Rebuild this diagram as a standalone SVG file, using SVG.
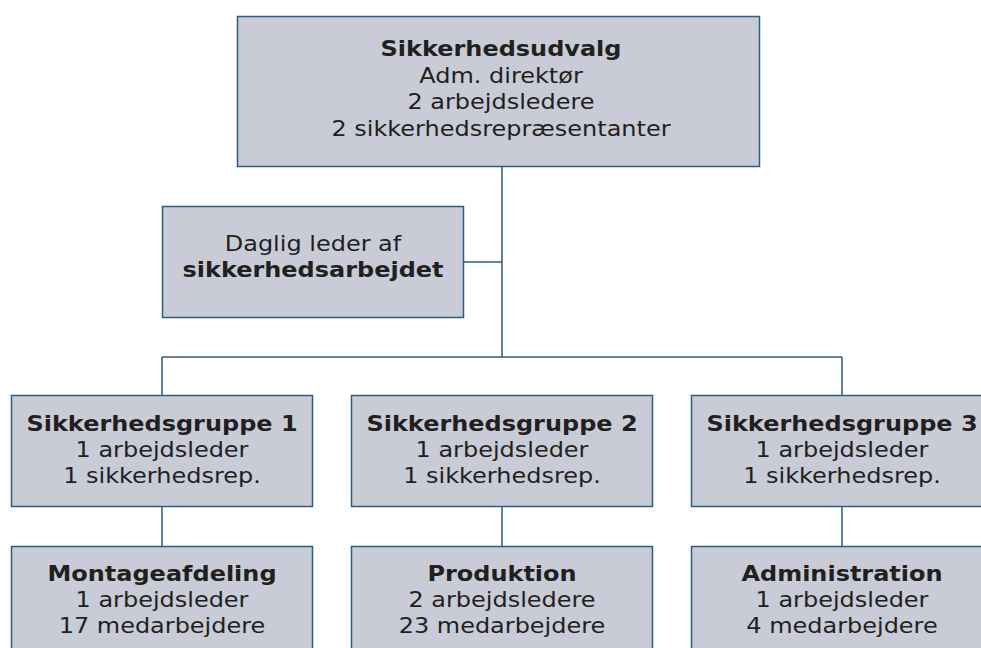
<svg xmlns="http://www.w3.org/2000/svg" width="981" height="648" viewBox="0 0 981 648">
<style>
.box{fill:#c9ccd7;stroke:#2f5c7f;stroke-width:1.5}
.ln{stroke:#2f5c7f;stroke-width:1.5;fill:none}
text{font-family:"DejaVu Sans",Verdana,sans-serif;font-size:22px;fill:#231f20;text-anchor:middle}
.b{font-weight:bold}
</style>
<rect width="981" height="648" fill="#ffffff"/>
<g id="connectors">
<path class="ln" d="M502 166V357M464 262H502M162 357H842M162 357V395M842 357V395M162 507V546M502 507V546M842 507V546"/>
</g>
<g id="n-udvalg">
<rect class="box" x="237.5" y="16.5" width="522" height="150"/>
<g transform="translate(501 0) scale(1.09 1)">
<text x="0" y="56" class="b">Sikkerhedsudvalg</text>
<text x="0" y="83">Adm. direktør</text>
<text x="0" y="109">2 arbejdsledere</text>
<text x="0" y="136">2 sikkerhedsrepræsentanter</text>
</g>
</g>
<g id="n-daglig">
<rect class="box" x="162.5" y="206.5" width="301" height="111"/>
<g transform="translate(313 0) scale(1.09 1)">
<text x="0" y="251">Daglig leder af</text>
<text x="0" y="277" class="b">sikkerhedsarbejdet</text>
</g>
</g>
<g id="n-g1">
<rect class="box" x="11.5" y="395.5" width="301" height="111"/>
<g transform="translate(162 0) scale(1.09 1)">
<text x="0" y="431" class="b">Sikkerhedsgruppe 1</text>
<text x="0" y="457">1 arbejdsleder</text>
<text x="0" y="483">1 sikkerhedsrep.</text>
</g>
</g>
<g id="n-g2">
<rect class="box" x="351.5" y="395.5" width="301" height="111"/>
<g transform="translate(502 0) scale(1.09 1)">
<text x="0" y="431" class="b">Sikkerhedsgruppe 2</text>
<text x="0" y="457">1 arbejdsleder</text>
<text x="0" y="483">1 sikkerhedsrep.</text>
</g>
</g>
<g id="n-g3">
<rect class="box" x="691.5" y="395.5" width="301" height="111"/>
<g transform="translate(842 0) scale(1.09 1)">
<text x="0" y="431" class="b">Sikkerhedsgruppe 3</text>
<text x="0" y="457">1 arbejdsleder</text>
<text x="0" y="483">1 sikkerhedsrep.</text>
</g>
</g>
<g id="n-montage">
<rect class="box" x="11.5" y="546.5" width="301" height="120"/>
<g transform="translate(162 0) scale(1.09 1)">
<text x="0" y="581" class="b">Montageafdeling</text>
<text x="0" y="607">1 arbejdsleder</text>
<text x="0" y="633">17 medarbejdere</text>
</g>
</g>
<g id="n-produktion">
<rect class="box" x="351.5" y="546.5" width="301" height="120"/>
<g transform="translate(502 0) scale(1.09 1)">
<text x="0" y="581" class="b">Produktion</text>
<text x="0" y="607">2 arbejdsledere</text>
<text x="0" y="633">23 medarbejdere</text>
</g>
</g>
<g id="n-admin">
<rect class="box" x="691.5" y="546.5" width="301" height="120"/>
<g transform="translate(842 0) scale(1.09 1)">
<text x="0" y="581" class="b">Administration</text>
<text x="0" y="607">1 arbejdsleder</text>
<text x="0" y="633">4 medarbejdere</text>
</g>
</g>
</svg>
